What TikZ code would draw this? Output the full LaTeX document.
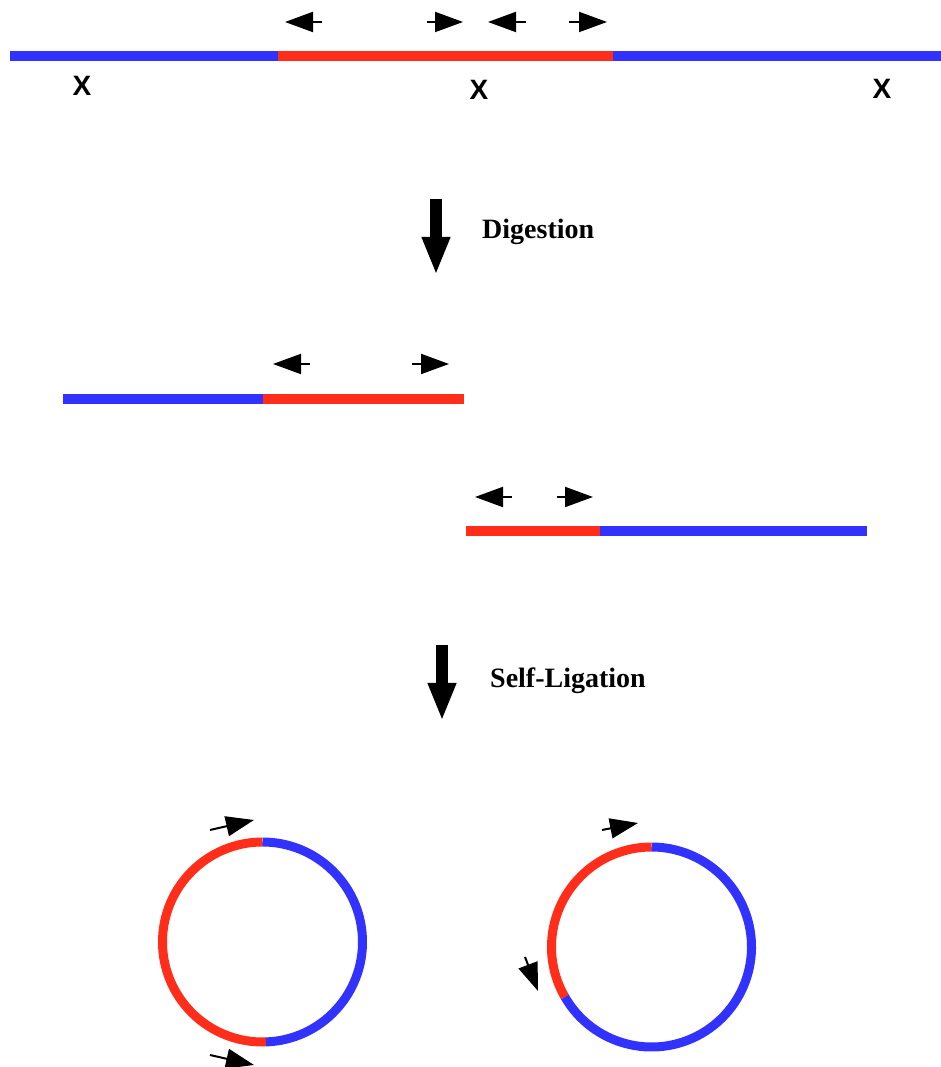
\documentclass[tikz,border=0pt]{standalone}
\usepackage{fontspec}
\setmainfont{Liberation Serif}
\setsansfont{Liberation Sans}
\usetikzlibrary{arrows.meta}
\definecolor{DnaRed}{RGB}{255,45,25}
\definecolor{DnaBlue}{RGB}{50,50,255}
\tikzset{
  insert/.style={draw=DnaRed,line width=10pt},
  flank/.style={draw=DnaBlue,line width=10pt},
  ringred/.style={draw=DnaRed,line width=9pt},
  ringblue/.style={draw=DnaBlue,line width=9pt},
  primer/.style={-{Triangle[length=28pt,width=20pt]},line width=2pt,black},
  stage/.style={-{Triangle[length=38pt,width=26pt]},line width=12pt,black},
  site/.style={font=\sffamily\bfseries\fontsize{28}{30}\selectfont,
    inner sep=0pt,anchor=base},
  caption/.style={font=\bfseries\fontsize{28}{32}\selectfont,
    inner sep=0pt,anchor=base west}
}

\begin{document}
\begin{tikzpicture}[x=1pt,y=1pt]
  \useasboundingbox (0,0) rectangle (941,1067);
  \clip (0,0) rectangle (941,1067);

  % genomic locus with three restriction sites
  \draw[flank]  (10,1011) -- (278,1011);
  \draw[insert] (278,1011) -- (613,1011);
  \draw[flank]  (613,1011) -- (941,1011);
  \node[site] (x1) at (82,971) {X};
  \node[site] (x2) at (479,967) {X};
  \node[site] (x3) at (882,968) {X};

  \draw[primer] (322,1045) -- (285,1045);
  \draw[primer] (427,1045) -- (463,1045);
  \draw[primer] (526,1045) -- (488,1045);
  \draw[primer] (569,1045) -- (607,1045);

  % digestion step
  \coordinate (dig top) at (436,868);
  \coordinate (dig tip) at (436,792);
  \draw[stage] (dig top) -- (dig tip);
  \node[caption] (digest) at (482,828) {Digestion};

  % the two fragments
  \draw[flank]  (63,668) -- (263,668);
  \draw[insert] (263,668) -- (464,668);
  \draw[primer] (310,703) -- (273,703);
  \draw[primer] (412,703) -- (449,703);

  \draw[insert] (466,536) -- (600,536);
  \draw[flank]  (600,536) -- (867,536);
  \draw[primer] (512,570) -- (475,570);
  \draw[primer] (557,570) -- (593,570);

  % ligation step
  \coordinate (lig top) at (442,422);
  \coordinate (lig tip) at (442,346);
  \draw[stage] (lig top) -- (lig tip);
  \node[caption] (ligate) at (490,379) {Self-Ligation};

  % circularised fragments
  \coordinate (ringA) at (262.5,125);
  \draw[ringred]  (ringA) ++(90:100) arc (90:272:100);
  \draw[ringblue] (ringA) ++(272:100) arc (272:450:100);
  \draw[primer] (210,237) -- (254,247);
  \draw[primer] (210,12) -- (254,2);

  \coordinate (ringB) at (651.5,120);
  \draw[ringred]  (ringB) ++(90:100) arc (90:210:100);
  \draw[ringblue] (ringB) ++(210:100) arc (210:450:100);
  \draw[primer] (602,237) -- (638,244);
  \draw[primer] (525,110) -- (538,76);
\end{tikzpicture}
\end{document}
